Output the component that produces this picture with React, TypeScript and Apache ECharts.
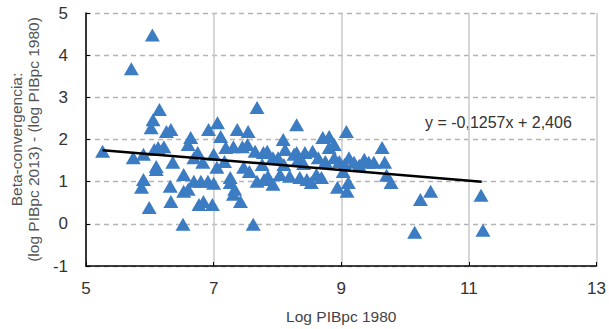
import React, { useEffect, useRef } from "react";
import * as echarts from "echarts";

// Log PIBpc 1980 (x) and beta-convergence (y) for each observation
const xValues: number[] = [
  5.26, 5.71, 6.04, 5.74, 5.9, 6.07, 6.13, 6.22, 5.9, 5.87, 5.99, 6.02, 6.05, 6.15, 6.26, 6.33,
  6.1, 6.36, 6.1, 6.33, 6.32, 6.52, 6.53, 6.53, 6.6, 6.69, 6.8, 6.77, 6.84, 6.98, 6.64, 6.6,
  6.75, 6.69, 6.91, 7.0, 6.92, 7.06, 7.11, 7.0, 7.19, 7.31, 7.26, 7.26, 7.31, 7.42, 7.37, 7.54,
  7.45, 7.53, 7.65, 7.78, 7.62, 7.68, 7.68, 7.85, 7.93, 8.04, 7.93, 8.09, 8.12, 8.19, 8.3, 8.3,
  8.43, 8.46, 8.53, 8.71, 8.81, 9.08, 8.89, 8.94, 9.11, 9.09, 9.64, 9.78, 10.24, 10.15, 10.4, 11.19,
  11.22, 7.84, 8.01, 8.26, 8.33, 8.55, 8.64, 8.75, 8.89, 8.97, 9.05, 9.12, 9.2, 9.28, 9.36, 9.43,
  9.51, 9.68, 9.71, 9.03, 8.69, 8.61, 8.35, 8.41, 7.79, 7.56, 7.47, 7.33, 7.05, 7.17, 7.76, 8.1,
  8.81, 6.83,
];
const yValues: number[] = [
  1.72, 3.68, 4.48, 1.57, 1.65, 1.76, 1.81, 1.83, 1.05, 0.87, 0.39, 2.28, 2.47, 2.71, 2.19, 2.24,
  1.36, 1.46, 1.29, 0.53, 0.89, -0.01, 1.17, 0.77, 0.82, 1.01, 1.01, 0.46, 0.53, 0.46, 2.05, 1.88,
  1.69, 1.57, 1.01, 0.96, 2.24, 2.4, 2.07, 1.65, 1.81, 1.83, 1.1, 0.98, 0.7, 0.53, 2.24, 2.19,
  1.83, 1.88, 1.72, 1.69, -0.01, 2.76, 1.01, 1.13, 0.94, 1.17, 1.57, 2.0, 1.76, 1.13, 2.35, 1.69,
  1.69, 1.05, 0.98, 2.05, 2.07, 2.19, 1.88, 0.87, 0.98, 0.77, 1.81, 0.98, 0.58, -0.2, 0.77, 0.68,
  -0.15, 1.72, 1.57, 1.65, 1.53, 1.72, 1.57, 1.48, 1.57, 1.48, 1.41, 1.57, 1.46, 1.39, 1.53, 1.46,
  1.46, 1.46, 1.15, 1.24, 1.1, 1.17, 1.1, 1.43, 1.05, 1.24, 1.34, 0.82, 1.34, 1.48, 1.41, 1.41,
  1.81, 1.46,
];

// Linear trend: y = -0,1257x + 2,406, drawn over the data range
const trendSlope = -0.1257;
const trendIntercept = 2.406;
const trendX: number[] = [5.26, 11.2];
const equationLabel = "y = -0,1257x + 2,406";

const xTicks = { min: 5, max: 13, interval: 2 };
const yTicks = { min: -1, max: 5, interval: 1 };

const FONT = "'Liberation Sans', Arial, Helvetica, sans-serif";

export default function App() {
  const ref = useRef<HTMLDivElement>(null);
  useEffect(() => {
    if (!ref.current) return;
    const chart = echarts.init(ref.current, undefined, { renderer: "svg" });
    const points = xValues.map((x, i) => [x, yValues[i]]);
    const trend = trendX.map((x) => [x, trendSlope * x + trendIntercept]);
    chart.setOption({
      animation: false,
      backgroundColor: "#ffffff",
      textStyle: { fontFamily: FONT },
      grid: { left: 82, right: 11, top: 13, bottom: 62, containLabel: false },
      xAxis: {
        type: "value",
        min: xTicks.min,
        max: xTicks.max,
        interval: xTicks.interval,
        name: "Log PIBpc 1980",
        nameLocation: "middle",
        nameGap: 42,
        nameTextStyle: { fontSize: 15.5, color: "#444", fontFamily: FONT },
        axisLine: { onZero: false, lineStyle: { color: "#000", width: 1.5 } },
        axisTick: { show: true, inside: true, length: 4, lineStyle: { color: "#000" } },
        axisLabel: { fontSize: 17, color: "#333", margin: 14, fontFamily: FONT },
        splitLine: { show: true, lineStyle: { color: "#c8c8c8", width: 1.5, type: "solid" } },
      },
      yAxis: {
        type: "value",
        min: yTicks.min,
        max: yTicks.max,
        interval: yTicks.interval,
        name: "Beta-convergencia:\n(log PIBpc 2013) - (log PIBpc 1980)",
        nameLocation: "middle",
        nameGap: 31,
        nameTextStyle: { fontSize: 15.5, color: "#555", lineHeight: 17, fontFamily: FONT },
        axisLine: { show: true, lineStyle: { color: "#000", width: 1.5 } },
        axisTick: { show: true, inside: true, length: 4, lineStyle: { color: "#000" } },
        axisLabel: { fontSize: 17, color: "#333", margin: 18, fontFamily: FONT },
        splitLine: { show: true, lineStyle: { color: "#b4b4b4", width: 1.3, type: [5, 4] } },
      },
      series: [
        {
          type: "scatter",
          data: points,
          symbol: "triangle",
          symbolSize: [15, 13],
          itemStyle: { color: "#3b7cc3", opacity: 1 },
          z: 2,
        },
        {
          type: "line",
          data: trend,
          symbol: "none",
          lineStyle: { color: "#000", width: 2.5 },
          z: 3,
        },
      ],
      graphic: [
        {
          type: "text",
          left: 425,
          top: 114,
          style: { text: equationLabel, fontSize: 16, fill: "#333", fontFamily: FONT },
        },
      ],
    });
    return () => chart.dispose();
  }, []);
  return <div ref={ref} style={{ width: 609, height: 329, position: "absolute", left: 0, top: 0 }} />;
}
